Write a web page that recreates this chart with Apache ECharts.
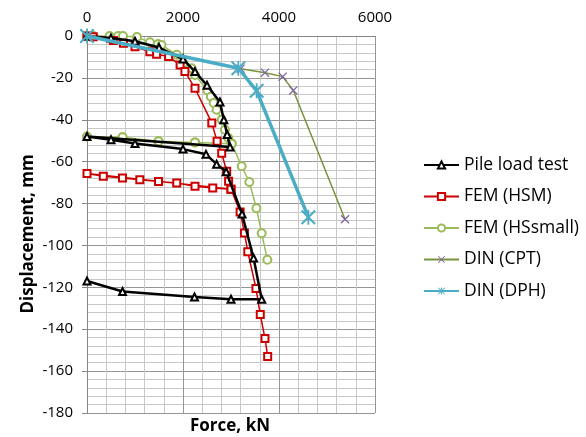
<!DOCTYPE html>
<html>
<head>
<meta charset="utf-8">
<script src="https://cdn.jsdelivr.net/npm/echarts@6/dist/echarts.min.js"></script>
<style>html,body{margin:0;padding:0;background:#fff}#c{width:586px;height:437px}</style>
</head>
<body>
<div id="c"></div>
<script>
// ---- data ----
const xTicks = [0, 2000, 4000, 6000];
const yTicks = [0, -20, -40, -60, -80, -100, -120, -140, -160, -180];

const pileForce = [0, 500, 1000, 1500, 2000, 2250, 2500, 2770, 2850, 2920, 2980, 0, 500, 1000, 2000, 2480, 2700, 2900, 3230, 3470, 3640, 3000, 2240, 740, 0];
const pileDisp  = [0, -1, -2.5, -5.5, -11, -17, -23.5, -31.5, -40, -47, -53, -48, -49.5, -51.3, -54, -56.5, -61.2, -64.8, -85, -106, -125.7, -125.7, -124.6, -122, -117];

const hsmForce = [0, 130, 550, 760, 1000, 1310, 1450, 1700, 1940, 2040, 2250, 2600, 2710, 2806, 2910, 2950, 3000, 2620, 2250, 1870, 1490, 1100, 740, 340, 0, 3000, 3190, 3280, 3350, 3520, 3610, 3708, 3764];
const hsmDisp  = [0, -0.3, -2.2, -3.5, -5.1, -7.5, -8.7, -9.8, -13.8, -17, -25, -41.5, -50.3, -56, -64.6, -69.4, -73.2, -72.6, -71.7, -70.2, -69.5, -68.6, -67.8, -67, -65.6, -73.2, -84, -94, -103, -120.5, -133, -144.4, -153];

const hssForce = [0, 130, 470, 650, 750, 1040, 1310, 1480, 1550, 1870, 2010, 2180, 2250, 2510, 2580, 2640, 2700, 2806, 2875, 2944, 3014, 2250, 1490, 740, 0, 740, 1490, 2250, 3014, 3222, 3382, 3530, 3639, 3757];
const hssDisp  = [0, 0, 0, 0, 0, -0.5, -3, -3.8, -4.3, -9, -13, -15.4, -18.6, -26, -29, -32, -35.2, -40, -44.8, -48.7, -51.4, -50.8, -50.3, -48.3, -48, -48.3, -50.3, -50.8, -51.4, -62.2, -69.7, -82.2, -94.2, -106.8];

const cptForce = [0, 3200, 3708, 4076, 4299, 5375];
const cptDisp  = [0, -15.6, -17.5, -19.4, -26, -87.5];

const dphForce = [0, 3153, 3535, 4611];
const dphDisp  = [0, -15.4, -26.2, -86.5];

const seriesNames = ['Pile load test', 'FEM (HSM)', 'FEM (HSsmall)', 'DIN (CPT)', 'DIN (DPH)'];

// ---- build ----
const zip = (a, b) => a.map((v, i) => [v, b[i]]);
const FONT = '"Open Sans", "Liberation Sans", sans-serif';
const crossPath = 'path://M0,1L1,0L10,9L9,10Z M9,0L10,1L1,10L0,9Z';
const starPath = 'path://M0,1L1,0L10,9L9,10Z M9,0L10,1L1,10L0,9Z M4.4,0L5.6,0L5.6,10L4.4,10Z';

const chart = echarts.init(document.getElementById('c'));
chart.setOption({
  animation: false,
  backgroundColor: '#fff',
  grid: { left: 87, right: 211, top: 36, bottom: 24 },
  xAxis: {
    type: 'value', position: 'top', min: 0, max: 6000, interval: 2000,
    axisLine: { show: true, onZero: false, lineStyle: { color: '#868686', width: 1 } },
    axisTick: { show: false },
    axisLabel: { fontFamily: FONT, fontSize: 15, color: '#000', margin: 11,
      formatter: v => xTicks.includes(v) ? String(v) : '' },
    splitLine: { show: true, lineStyle: { color: '#969696', width: 1 } },
    minorTick: { show: false, splitNumber: 5 },
    minorSplitLine: { show: true, lineStyle: { color: '#c8c8c8', width: 1 } }
  },
  yAxis: {
    type: 'value', min: -180, max: 0, interval: 20,
    axisLine: { show: true, onZero: false, lineStyle: { color: '#868686', width: 1 } },
    axisTick: { show: true, length: 5, lineStyle: { color: '#868686' } },
    axisLabel: { fontFamily: FONT, fontSize: 15, color: '#000', margin: 14,
      formatter: v => yTicks.includes(v) ? String(v) : '' },
    splitLine: { show: true, lineStyle: { color: '#969696', width: 1 } },
    minorTick: { show: false, splitNumber: 5 },
    minorSplitLine: { show: true, lineStyle: { color: '#c8c8c8', width: 1 } }
  },
  legend: {
    orient: 'vertical', left: 418, top: 151, itemGap: 13.5,
    itemWidth: 35, itemHeight: 9,
    textStyle: { fontFamily: FONT, fontSize: 17.5, color: '#000' },
    data: seriesNames
  },
  graphic: [
    { type: 'text', x: 230, y: 426, style: { text: 'Force, kN', font: 'bold 17px ' + FONT, fill: '#000', align: 'center', verticalAlign: 'middle' } },
    { type: 'text', x: 28, y: 234, rotation: Math.PI / 2, style: { text: 'Displacement, mm', font: 'bold 17px ' + FONT, fill: '#000', align: 'center', verticalAlign: 'middle' } }
  ],
  series: [
    { name: seriesNames[0], type: 'line', data: zip(pileForce, pileDisp), z: 6,
      symbol: 'emptyTriangle', symbolSize: 7,
      lineStyle: { color: '#000', width: 2.5 }, itemStyle: { color: '#000', borderWidth: 1.5 } },
    { name: seriesNames[1], type: 'line', data: zip(hsmForce, hsmDisp), z: 5,
      symbol: 'emptyRect', symbolSize: 7,
      lineStyle: { color: '#CC0000', width: 1.5 }, itemStyle: { color: '#CC0000', borderWidth: 1.5 } },
    { name: seriesNames[2], type: 'line', data: zip(hssForce, hssDisp), z: 4,
      symbol: 'emptyCircle', symbolSize: 8,
      lineStyle: { color: '#9BBB59', width: 1.5 }, itemStyle: { color: '#9BBB59', borderWidth: 1.5 } },
    { name: seriesNames[3], type: 'line', data: zip(cptForce, cptDisp), z: 3,
      symbol: crossPath, symbolSize: 9,
      lineStyle: { color: '#77933C', width: 1.5 }, itemStyle: { color: '#8064A2' } },
    { name: seriesNames[4], type: 'line', data: zip(dphForce, dphDisp), z: 7,
      symbol: starPath, symbolSize: 15,
      lineStyle: { color: '#4BACC6', width: 3.5 }, itemStyle: { color: '#4BACC6' } }
  ]
});
</script>
</body>
</html>
